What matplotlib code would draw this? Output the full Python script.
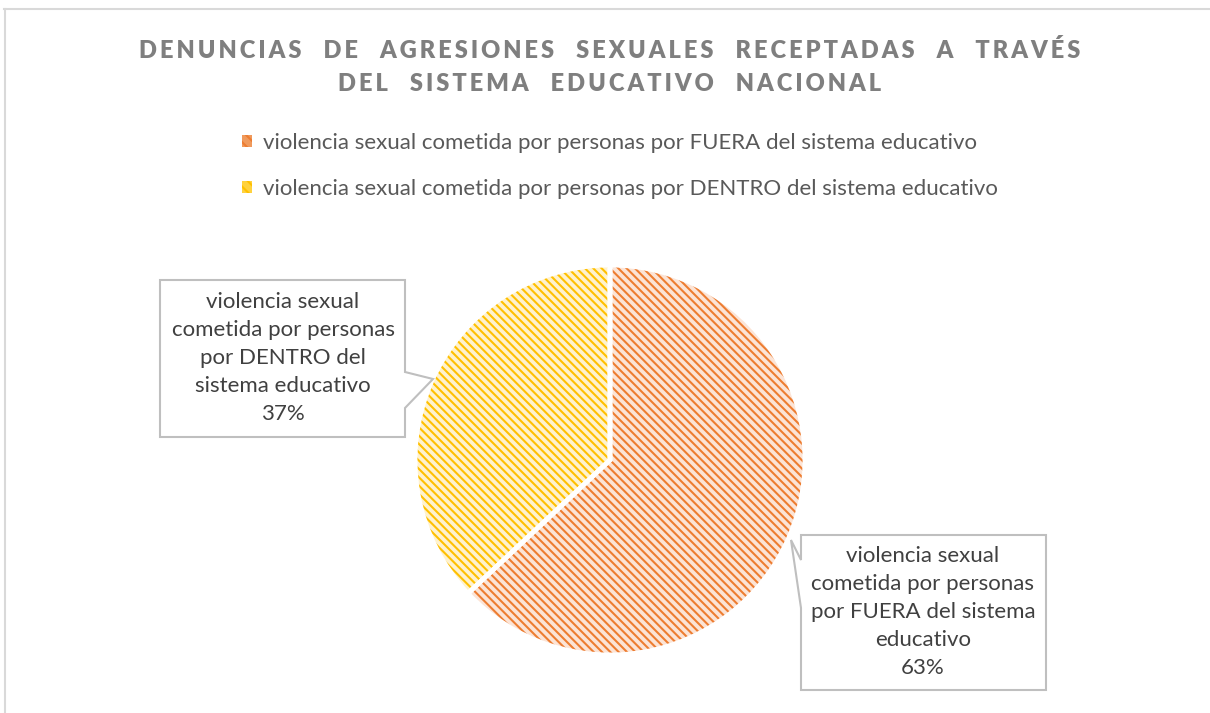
import matplotlib.pyplot as plt
from matplotlib.patches import Polygon, Patch
from matplotlib.lines import Line2D

plt.rcParams['font.family'] = ['Lato', 'DejaVu Sans']
plt.rcParams['hatch.linewidth'] = 1.5

title_lines = ['DENUNCIAS DE AGRESIONES SEXUALES RECEPTADAS A TRAVÉS',
               'DEL SISTEMA EDUCATIVO NACIONAL']
categories = ['violencia sexual cometida por personas por FUERA del sistema educativo',
              'violencia sexual cometida por personas por DENTRO del sistema educativo']
box_labels = ['violencia sexual\ncometida por personas\npor FUERA del sistema\neducativo',
              'violencia sexual\ncometida por personas\npor DENTRO del\nsistema educativo']
shares = [63, 37]

dark = ['#ED7D31', '#FFC000']
light = ['#FCE4D6', '#FFF2CC']
mid = ['#F09A5C', '#FFD23F']

W, H = 1210, 713
fig = plt.figure(figsize=(W / 100, H / 100), dpi=100)


def fx(x):
    return x / W


def fy(y):
    return 1 - y / H


def spaced(s):
    # fake the wide letter spacing of the original title
    return '    '.join('\u2009'.join(w) for w in s.split(' '))


# chart frame
fig.add_artist(Line2D([fx(4), fx(1210)], [fy(9), fy(9)], color='#D9D9D9', lw=1.5))
fig.add_artist(Line2D([fx(4.5), fx(4.5)], [fy(9), fy(713)], color='#D9D9D9', lw=1.5))

# title
for i, line in enumerate(title_lines):
    fig.text(0.504, fy(51 + 33 * i), spaced(line), ha='center', va='center',
             fontsize=17, fontweight='heavy', color='#7F7F7F')

# pie
cx, cy, r = 610, 460, 195
ax = fig.add_axes([fx(cx - r), fy(cy + r), 2 * r / W, 2 * r / H])
wedges, _ = ax.pie(shares, colors=light, startangle=90, counterclock=False,
                   wedgeprops=dict(linewidth=0))
for w, c in zip(wedges, dark):
    w.set_edgecolor(c)
    w.set_hatch('\\\\\\\\')
    w.set_linewidth(0)
ax.pie(shares, startangle=90, counterclock=False,
       wedgeprops=dict(fill=False, edgecolor='white', linewidth=3.5))
ax.set_xlim(-1, 1)
ax.set_ylim(-1, 1)

# legend
handles = [Patch(facecolor=m, edgecolor=c, hatch='\\\\\\', linewidth=0)
           for m, c in zip(mid, dark)]
leg = fig.legend(handles, categories, loc='upper left',
                 bbox_to_anchor=(fx(222), fy(113)), frameon=False,
                 handlelength=0.45, handleheight=0.45, handletextpad=0.5,
                 labelspacing=1.15, fontsize=16)
for t in leg.get_texts():
    t.set_color('#595959')

# data label callouts
def callout(pts):
    fig.add_artist(Polygon([(fx(x), fy(y)) for x, y in pts], closed=True,
                           facecolor='white', edgecolor='#BFBFBF', linewidth=1.5,
                           transform=fig.transFigure))


callout([(160, 280), (405, 280), (405, 372), (433, 379), (405, 408),
         (405, 437), (160, 437)])
callout([(801, 535), (1046, 535), (1046, 690), (801, 690), (801, 608),
         (791, 540), (801, 560)])

fig.text(fx(923), fy(612), box_labels[0] + '\n%d%%' % shares[0], ha='center',
         va='center', fontsize=16, color='#404040', linespacing=1.5)
fig.text(fx(283), fy(358), box_labels[1] + '\n%d%%' % shares[1], ha='center',
         va='center', fontsize=16, color='#404040', linespacing=1.5)

fig.savefig('out.png', dpi=100, facecolor='white')
